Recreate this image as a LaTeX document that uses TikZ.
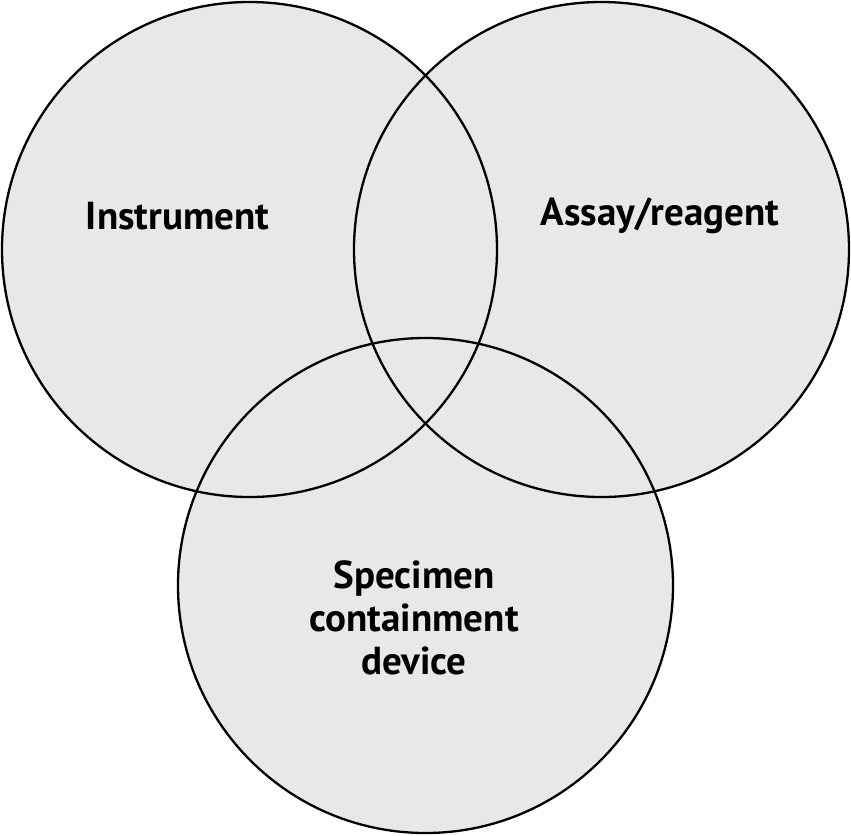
\documentclass[tikz,border=0pt]{standalone}
\usepackage{fontspec}
\setmainfont{PT Sans}
\begin{document}
\begin{tikzpicture}[x=1pt,y=-1pt,
  venn/.style={circle,minimum size=495pt,inner sep=0pt},
  ring/.style={line width=2.3pt},
  lbl/.style={font=\bfseries\fontsize{39}{43}\selectfont,align=center,text=black}]
\useasboundingbox (0,0) rectangle (851,835);
\definecolor{vfill}{HTML}{E8E8E8}
\node[venn,fill=vfill] (A) at (249.5,249.5) {};
\node[venn,fill=vfill] (B) at (601.5,249.5) {};
\node[venn,fill=vfill] (C) at (425.5,585.5) {};
\draw[ring] (A.center) circle[radius=247.5pt];
\draw[ring] (B.center) circle[radius=247.5pt];
\draw[ring] (C.center) circle[radius=247.5pt];
\node[lbl] (ta) at (177.5,216) {Instrument};
\node[lbl] (tb) at (660,216) {Assay/reagent};
\node[lbl] (tc) at (414,618) {Specimen\\containment\\device};
\end{tikzpicture}
\end{document}
